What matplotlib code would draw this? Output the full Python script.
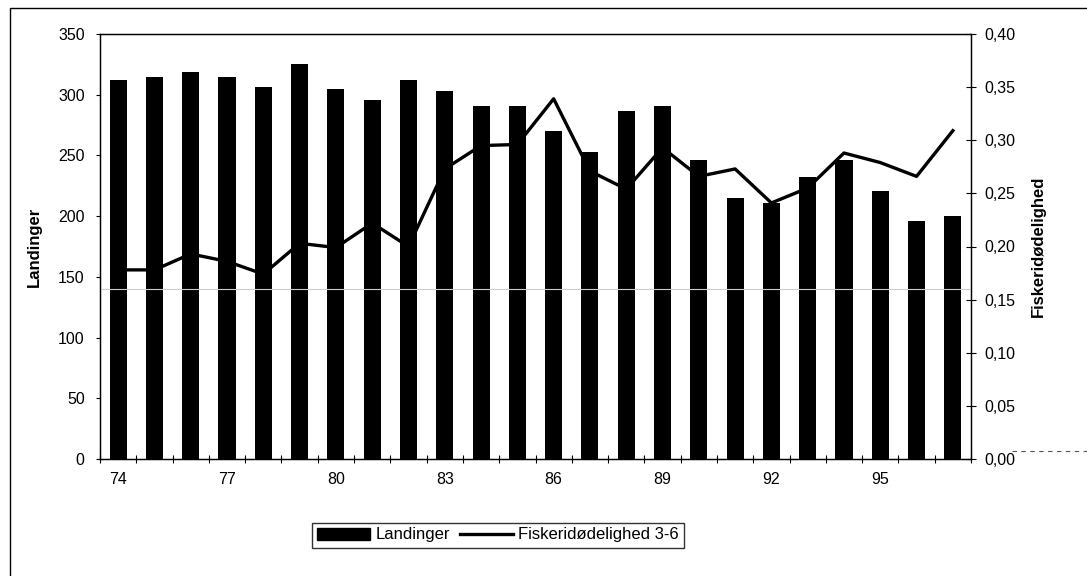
import matplotlib
matplotlib.use("Agg")
import matplotlib.pyplot as plt
from matplotlib.patches import Rectangle
from matplotlib.lines import Line2D
import numpy as np

plt.rcParams['font.family'] = ['Liberation Sans', 'DejaVu Sans']

years = [74, 75, 76, 77, 78, 79, 80, 81, 82, 83, 84, 85,
         86, 87, 88, 89, 90, 91, 92, 93, 94, 95, 96, 97]
landinger = [312, 315, 319, 315, 306, 325, 305, 296, 312, 303, 291, 291,
             270, 253, 287, 291, 246, 215, 211, 232, 246, 221, 196, 200]
fiskeri = [0.178, 0.178, 0.193, 0.186, 0.174, 0.203, 0.199, 0.222, 0.200, 0.273, 0.295, 0.296,
           0.339, 0.271, 0.254, 0.293, 0.266, 0.273, 0.241, 0.255, 0.288, 0.279, 0.266, 0.309]
left_ticks = [0, 50, 100, 150, 200, 250, 300, 350]
right_ticks = [0.00, 0.05, 0.10, 0.15, 0.20, 0.25, 0.30, 0.35, 0.40]
label_years = [74, 77, 80, 83, 86, 89, 92, 95]

W, H = 1087, 576
fig = plt.figure(figsize=(W / 100, H / 100), dpi=100)

# outer frame
fig.add_artist(Rectangle((10 / W, -0.2), 1.1, 1.2 - 8 / H, transform=fig.transFigure,
                         fill=False, edgecolor='black', linewidth=1.0))

ax = fig.add_axes([100 / W, 1 - 459 / H, (971 - 100) / W, (459 - 34) / H])
x = np.arange(len(years))
ax.bar(x, landinger, width=0.47, color='black', zorder=2)
ax.set_xlim(-0.5, len(years) - 0.5)
ax.set_ylim(0, 350)
ax.set_yticks(left_ticks)
ax.set_yticklabels([str(t) for t in left_ticks], fontsize=11.5)
ax.set_xticks(np.arange(len(years) + 1) - 0.5)
ax.set_xticklabels([])
ax.set_xticks([years.index(y) for y in label_years], minor=True)
ax.set_xticklabels([str(y) for y in label_years], minor=True, fontsize=11.5)
ax.tick_params(axis='x', which='major', direction='inout', length=6, width=0.8)
ax.tick_params(axis='x', which='minor', length=0, pad=9)
ax.tick_params(axis='y', direction='out', length=3, width=0.8, pad=8)
ax.set_ylabel('Landinger', fontsize=12, fontweight='bold', labelpad=12)
for s in ['left', 'bottom', 'top', 'right']:
    ax.spines[s].set_linewidth(1.0)
# scan artifact light line
ax.axhline(140, color='#cccccc', linewidth=0.8, zorder=3)

ax2 = ax.twinx()
ax2.plot(x, fiskeri, color='black', linewidth=2.4, zorder=4)
ax2.set_ylim(0, 0.40)
ax2.set_yticks(right_ticks)
ax2.set_yticklabels([f"{t:.2f}".replace('.', ',') for t in right_ticks], fontsize=11.5)
ax2.tick_params(axis='y', direction='inout', length=7, width=0.8, pad=6)
ax2.set_ylabel('Fiskeridødelighed', fontsize=12, fontweight='bold', labelpad=11)

# dashed artifact line right of 0,00
fig.add_artist(Line2D([1012 / W, 1.0], [1 - 451 / H, 1 - 451 / H], transform=fig.transFigure,
                      color='#555555', linewidth=0.8, linestyle=(0, (4, 4))))

handles = [Rectangle((0, 0), 1, 1, color='black'),
           Line2D([], [], color='black', linewidth=2.4)]
leg = fig.legend(handles, ['Landinger', 'Fiskeridødelighed 3-6'], loc='center',
                 bbox_to_anchor=(498 / W, 1 - 535 / H), ncol=2, frameon=True,
                 fancybox=False, edgecolor='black', fontsize=12, handlelength=3.2,
                 handletextpad=0.3, columnspacing=0.6, borderpad=0.3)
leg.get_frame().set_linewidth(1.0)

fig.savefig('out.png', dpi=100)
